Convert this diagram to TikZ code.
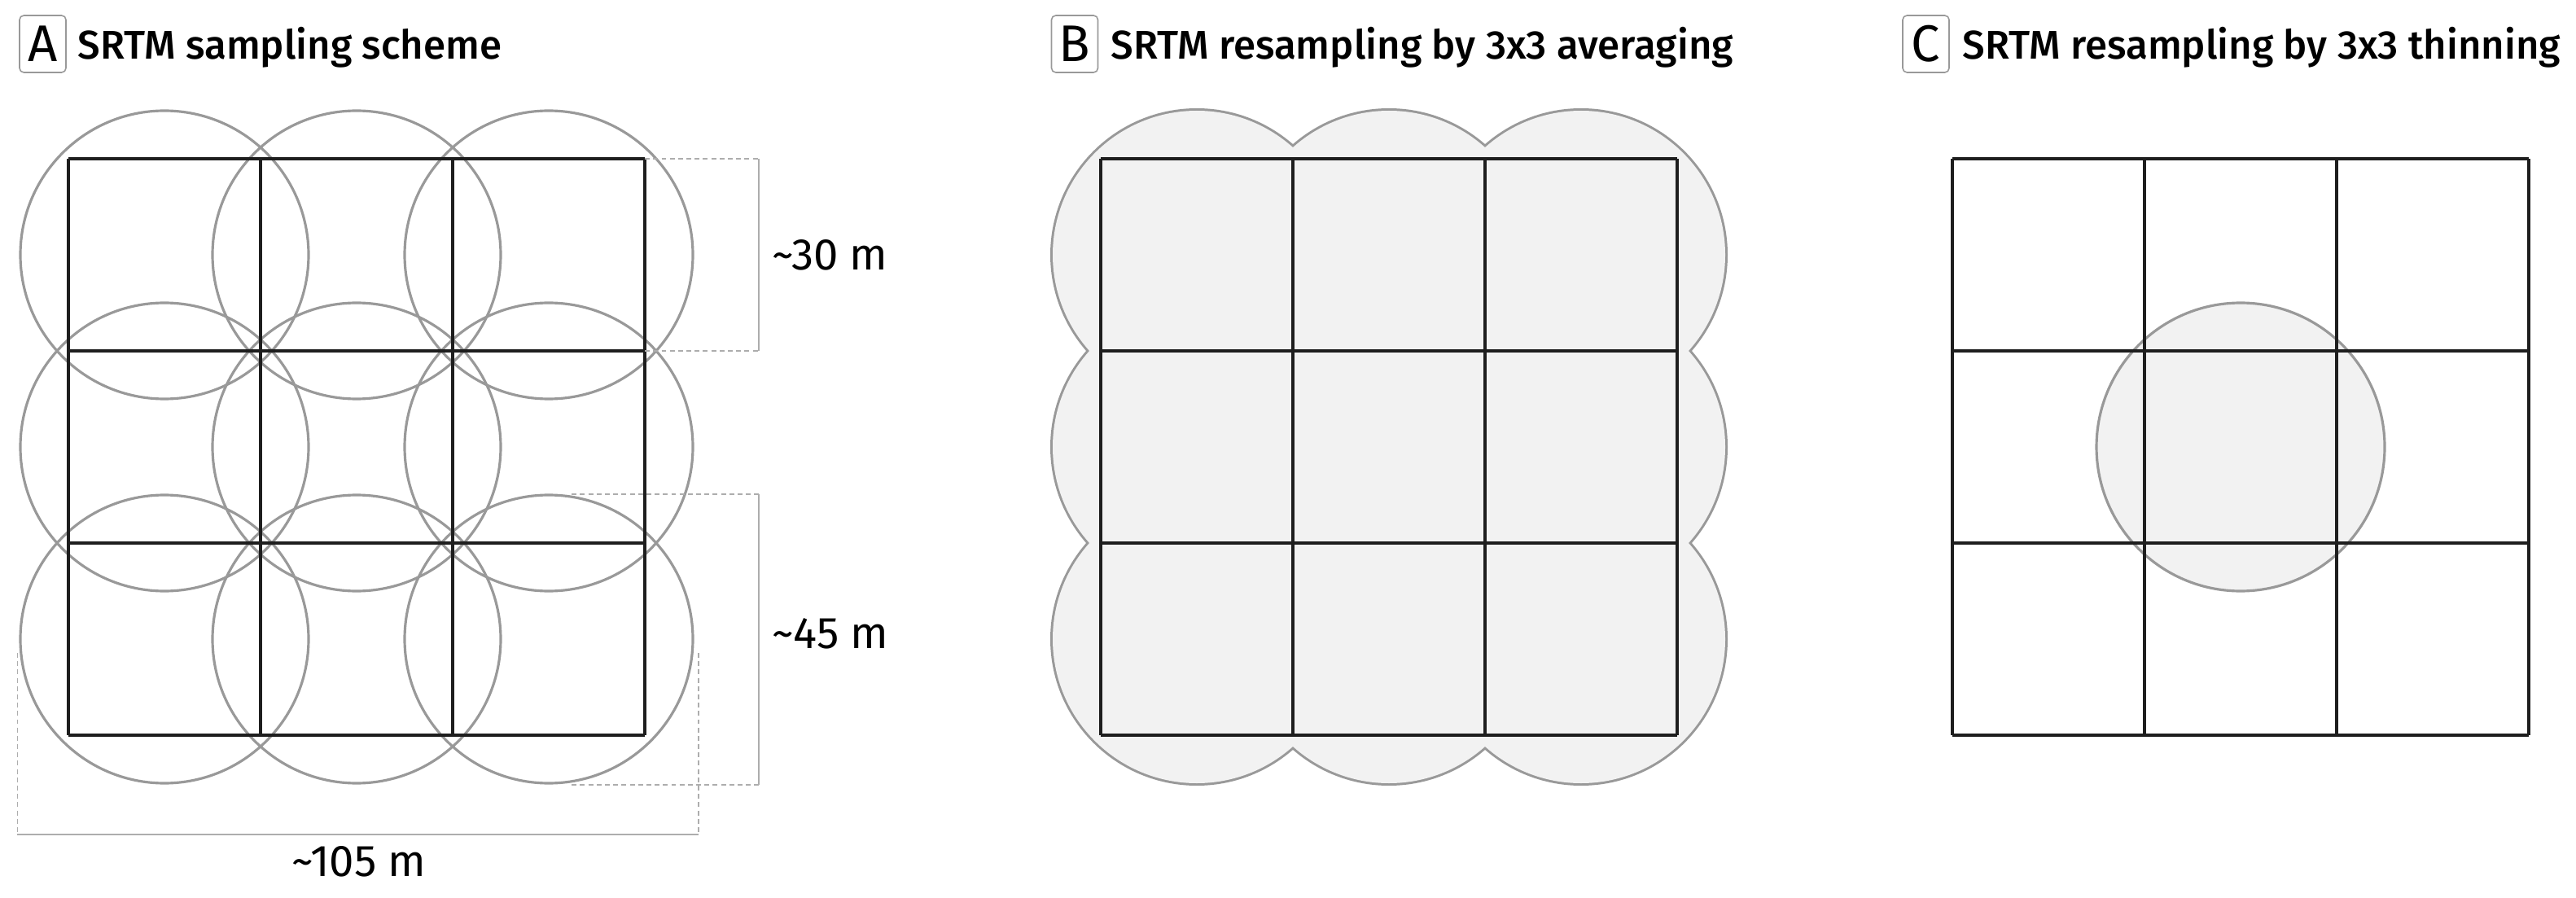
\documentclass[tikz,border=0pt]{standalone}
\usepackage{fontspec}
\setmainfont{Fira Sans}
\newfontfamily\titlefont{Fira Sans}[UprightFont={* Medium}]
\usetikzlibrary{calc}
\definecolor{griglia}{HTML}{1E1E1E}
\definecolor{cerchio}{HTML}{999999}
\definecolor{riempi}{HTML}{F2F2F2}
\definecolor{quota}{HTML}{ADADAD}
\tikzset{
cella/.style={draw=griglia,line width=0.9pt},
impronta/.style={draw=cerchio,line width=0.9pt},
bordo/.style={draw=cerchio,line width=1.7pt},
quotatura/.style={draw=quota,line width=0.5pt},
rinvio/.style={draw=quota,line width=0.5pt,dash pattern=on 1.7pt off 1.2pt},
lettera/.style={draw=cerchio,fill=white,rounded corners=1.5pt,line width=0.45pt,minimum width=0.57cm,minimum height=0.70cm,inner sep=0pt,font=\fontsize{18}{18}\selectfont},
titolo/.style={anchor=base west,inner sep=0pt,font=\titlefont\fontsize{14}{14}\selectfont},
misura/.style={inner sep=0pt,font=\fontsize{15.5}{15.5}\selectfont}}
\newcommand{\impronte}{(0.5,0.5) circle (0.75) (1.5,0.5) circle (0.75) (2.5,0.5) circle (0.75)
  (0.5,1.5) circle (0.75) (1.5,1.5) circle (0.75) (2.5,1.5) circle (0.75)
  (0.5,2.5) circle (0.75) (1.5,2.5) circle (0.75) (2.5,2.5) circle (0.75)}

\begin{document}
\begin{tikzpicture}
\useasboundingbox (0,0) rectangle (31.64,11.02);

% A
\node[lettera] (A) at (0.525,10.48) {A};
\node[titolo] (tA) at (0.95,10.29) {SRTM sampling scheme};
\begin{scope}[shift={(0.84,1.99)},scale=2.36]
\draw[impronta] \impronte;
\draw[cella] (0,0) grid (3,3);

\coordinate (q1) at (3,3);
\coordinate (q2) at (3.593,3);
\coordinate (q3) at (3.593,2);
\coordinate (q4) at (3,2);
\draw[rinvio] (q1) -- (q2) (q4) -- (q3);
\draw[quotatura] (q2) -- (q3);
\node[misura,anchor=west] (l30) at (3.661,2.5) {\textasciitilde30 m};

\coordinate (r1) at (2.619,1.254);
\coordinate (r2) at (3.593,1.254);
\coordinate (r3) at (3.593,-0.258);
\coordinate (r4) at (2.619,-0.258);
\draw[rinvio] (r1) -- (r2) (r4) -- (r3);
\draw[quotatura] (r2) -- (r3);
\node[misura,anchor=west] (l45) at (3.661,0.53) {\textasciitilde45 m};

\coordinate (s1) at (-0.265,0.428);
\coordinate (s2) at (-0.265,-0.517);
\coordinate (s3) at (3.28,-0.517);
\coordinate (s4) at (3.28,0.428);
\draw[rinvio] (s1) -- (s2) (s4) -- (s3);
\draw[quotatura] (s2) -- (s3);
\node[misura] (l105) at (1.513,-0.657) {\textasciitilde105 m};
\end{scope}

% B
\node[lettera] (B) at (13.2,10.48) {B};
\node[titolo] (tB) at (13.64,10.29) {SRTM resampling by 3x3 averaging};
\begin{scope}[shift={(13.52,1.99)},scale=2.36]
\draw[bordo] \impronte;
\fill[riempi] \impronte;
\draw[cella] (0,0) grid (3,3);
\end{scope}

% C
\node[lettera] (C) at (23.655,10.48) {C};
\node[titolo] (tC) at (24.10,10.29) {SRTM resampling by 3x3 thinning};
\begin{scope}[shift={(23.98,1.99)},scale=2.36]
\draw[impronta,fill=riempi] (1.5,1.5) circle (0.75);
\draw[cella] (0,0) grid (3,3);
\end{scope}
\end{tikzpicture}
\end{document}
